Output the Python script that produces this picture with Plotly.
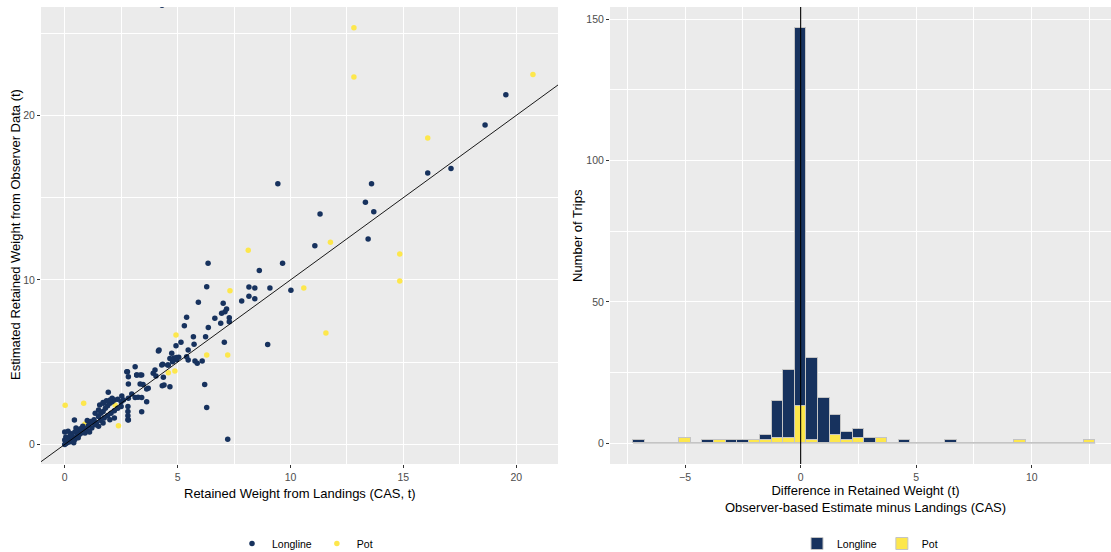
import plotly.graph_objects as go

# ---------------- data ----------------
# Scatter: Longline trips (landings CAS, observer estimate)
longline_x = [4.31, 19.54, 18.62, 17.11, 16.08, 13.59, 9.44, 13.32, 13.69, 11.31,
              13.44, 11.08, 6.35, 9.65, 8.62, 10.02, 9.09, 8.42, 8.16, 6.29,
              8.16, 8.42, 7.84, 5.92, 7.02, 7.17, 7.10, 6.95, 5.40, 6.65,
              7.29, 7.29, 6.91, 5.30, 6.36, 6.24, 5.70, 5.15, 5.73, 4.93,
              7.07, 8.99, 4.18, 5.47, 4.74, 4.66, 4.85, 4.95, 5.05, 5.40,
              5.47, 5.77, 5.87, 6.09, 4.78, 4.59, 4.34, 4.00, 3.92, 4.37,
              3.41, 3.34, 4.32, 4.66, 6.20, 6.29, 7.22, 4.15, 4.96, 4.30,
              4.56, 3.12, 2.78, 3.19, 2.82, 2.82, 3.47, 3.70, 1.93, 2.97,
              3.12, 3.25, 3.41, 2.82, 3.63, 2.60, 2.80, 2.80, 2.80, 2.80,
              3.41, 1.50, 1.60, 1.70, 1.80, 1.90, 2.00, 2.10, 2.20, 2.35,
              2.50, 1.75, 1.90, 2.05, 2.20, 2.35, 2.50, 2.00, 2.20, 1.40,
              1.60, 1.55, 1.70, 1.85, 2.10, 1.35, 1.50, 0.43, 1.00, 1.15,
              1.30, 0.80, 0.90, 1.05, 1.20, 1.35, 1.50, 1.70, 0.00, 0.15,
              0.30, 0.45, 0.60, 0.75, 0.10, 0.20, 0.30, 0.35, 0.45, 0.00,
              0.05, 0.00, 0.05, 0.20, 0.55, 0.65, 0.80, 0.90, 1.00, 0.25,
              0.10, 0.40, 0.60, 0.70, 1.10, 1.25, 0.50, 3.19, 3.34, 2.75,
              2.53, 1.71, 2.01, 4.04, 4.40, 3.63, 2.82]
longline_y = [26.70, 21.26, 19.42, 16.78, 16.50, 15.85, 15.85, 14.72, 14.15, 14.00,
              12.49, 12.08, 11.01, 11.01, 10.58, 9.37, 9.51, 9.51, 9.57, 9.59,
              9.00, 8.86, 8.72, 8.64, 8.58, 8.23, 8.07, 7.97, 7.73, 7.67,
              7.70, 7.46, 7.36, 7.22, 7.10, 6.55, 6.55, 6.21, 6.09, 6.00,
              6.21, 6.08, 5.74, 5.74, 5.54, 5.23, 5.25, 5.15, 5.30, 5.33,
              5.13, 5.07, 4.93, 5.07, 5.03, 4.83, 4.87, 4.52, 4.32, 4.08,
              4.22, 3.67, 3.57, 3.51, 3.65, 2.25, 0.31, 5.68, 5.29, 4.83,
              4.83, 4.72, 4.42, 4.22, 4.12, 3.67, 3.65, 3.41, 3.17, 3.06,
              2.85, 2.87, 2.85, 2.80, 2.60, 2.70, 2.30, 2.00, 1.75, 1.50,
              1.99, 1.70, 1.90, 2.00, 2.20, 2.35, 2.50, 2.60, 2.70, 2.75,
              2.60, 1.60, 1.75, 1.90, 2.05, 2.20, 2.30, 1.50, 1.60, 1.30,
              1.45, 2.40, 2.55, 2.65, 2.80, 1.89, 2.10, 1.48, 1.45, 1.40,
              1.50, 1.10, 0.95, 1.15, 1.00, 1.20, 1.10, 1.30, 0.75, 0.80,
              0.65, 0.75, 0.85, 0.70, 0.10, 0.30, 0.20, 0.45, 0.30, 0.27,
              0.45, 0.00, 0.05, 0.15, 0.55, 0.60, 0.85, 0.70, 0.85, 0.55,
              0.35, 0.10, 0.40, 0.95, 0.75, 1.30, 1.00, 4.22, 4.22, 4.42,
              2.94, 2.50, 2.70, 4.16, 3.61, 3.37, 1.48]

# Scatter: Pot trips
pot_x = [12.81, 12.81, 20.74, 16.08, 14.84, 14.84, 11.57, 11.77, 8.13, 10.59,
         7.32, 6.29, 7.22, 4.93, 4.59, 4.88, 0.02, 0.84, 0.90, 2.38, 2.23]
pot_y = [25.33, 22.33, 22.48, 18.63, 11.57, 9.93, 6.77, 12.29, 11.80, 9.51,
         9.34, 5.43, 5.43, 6.65, 4.36, 4.46, 2.38, 2.50, 1.24, 1.14, 2.40]

# Histogram of differences (observer estimate minus landings), 0.5 t bins
bin_centers = [-7.0, -6.5, -6.0, -5.5, -5.0, -4.5, -4.0, -3.5, -3.0, -2.5,
               -2.0, -1.5, -1.0, -0.5, 0.0, 0.5, 1.0, 1.5, 2.0, 2.5,
               3.0, 3.5, 4.0, 4.5, 5.0, 5.5, 6.0, 6.5, 7.0, 7.5,
               8.0, 8.5, 9.0, 9.5, 10.0, 10.5, 11.0, 11.5, 12.0, 12.5]
hist_longline = [1, 0, 0, 0, 0, 0, 1, 0, 1, 1,
                 0, 2, 13, 24, 134, 29, 16, 7, 3, 3,
                 2, 0, 0, 1, 0, 0, 0, 1, 0, 0,
                 0, 0, 0, 0, 0, 0, 0, 0, 0, 0]
hist_pot = [0, 0, 0, 0, 2, 0, 0, 1, 0, 0,
            1, 1, 2, 2, 13, 1, 0, 3, 1, 2,
            0, 2, 0, 0, 0, 0, 0, 0, 0, 0,
            0, 0, 0, 1, 0, 0, 0, 0, 0, 1]
bin_width = 0.5

NAVY = "#17325E"
YELLOW = "#FDE74C"
OUTLINE = "#C4C4C4"
FONT = "Liberation Sans, Arial, sans-serif"

fig = go.Figure()

# ---- left: scatter ----
fig.add_trace(go.Scatter(x=pot_x, y=pot_y, mode="markers", name="Pot",
                         marker=dict(color=YELLOW, size=5.5), legend="legend",
                         legendrank=2, xaxis="x", yaxis="y"))
fig.add_trace(go.Scatter(x=longline_x, y=longline_y, mode="markers", name="Longline",
                         marker=dict(color=NAVY, size=5.5), legend="legend",
                         legendrank=1, xaxis="x", yaxis="y"))
# 1:1 reference line
fig.add_trace(go.Scatter(x=[-5, 40], y=[-5, 40], mode="lines",
                         line=dict(color="black", width=0.9), showlegend=False,
                         hoverinfo="skip", xaxis="x", yaxis="y"))

# ---- right: stacked histogram ----
fig.add_trace(go.Bar(x=bin_centers, y=hist_pot, width=bin_width, name="Pot",
                     marker=dict(color=YELLOW, line=dict(color=OUTLINE, width=1)),
                     legend="legend2", legendrank=2, xaxis="x2", yaxis="y2"))
fig.add_trace(go.Bar(x=bin_centers, y=hist_longline, width=bin_width, name="Longline",
                     marker=dict(color=NAVY, line=dict(color=OUTLINE, width=1)),
                     legend="legend2", legendrank=1, xaxis="x2", yaxis="y2"))
# outline of empty bins along zero
fig.add_trace(go.Scatter(x=[bin_centers[0] - bin_width / 2, bin_centers[-1] + bin_width / 2],
                         y=[0, 0], mode="lines", line=dict(color=OUTLINE, width=1.2),
                         showlegend=False, hoverinfo="skip", xaxis="x2", yaxis="y2"))

W, H = 1111, 552
ybot = (H - 464) / H
ytop = (H - 7) / H

tickfont = dict(family=FONT, size=10.5, color="#4D4D4D")
common = dict(showline=False, zeroline=False, ticks="outside", ticklen=3,
              tickcolor="#333333", tickwidth=1, gridcolor="white", gridwidth=1.1,
              tickfont=tickfont, automargin=False)

title_font = dict(family=FONT, size=13, color="black")
legend_font = dict(family=FONT, size=10.5, color="black")

fig.update_layout(
    width=W, height=H,
    margin=dict(l=0, r=0, t=0, b=0, autoexpand=False),
    paper_bgcolor="white", plot_bgcolor="#EBEBEB",
    barmode="stack", bargap=0,
    font=dict(family=FONT, color="black"),
    xaxis=dict(domain=[41 / W, 558 / W], range=[-1.05, 21.85], dtick=5, tick0=0,
               minor=dict(dtick=2.5, tick0=0, showgrid=True, gridcolor="white", gridwidth=0.55),
               anchor="y", **common),
    yaxis=dict(domain=[ybot, ytop], range=[-1.19, 26.59], dtick=10, tick0=0,
               minor=dict(dtick=5, tick0=0, showgrid=True, gridcolor="white", gridwidth=0.55),
               anchor="x", **common),
    xaxis2=dict(domain=[610 / W, 1.0], range=[-8.25, 13.43], dtick=5, tick0=0,
                minor=dict(dtick=2.5, tick0=0, showgrid=True, gridcolor="white", gridwidth=0.55),
                anchor="y2", **common),
    yaxis2=dict(domain=[ybot, ytop], range=[-7.35, 154.35], dtick=50, tick0=0,
                minor=dict(dtick=25, tick0=0, showgrid=True, gridcolor="white", gridwidth=0.55),
                anchor="x2", **common),
    legend=dict(orientation="h", x=305 / W, xanchor="center", y=(H - 529) / H,
                yanchor="top", font=legend_font,
                bgcolor="rgba(0,0,0,0)", itemwidth=30, traceorder="normal"),
    legend2=dict(orientation="h", x=870 / W, xanchor="center", y=(H - 529) / H,
                 yanchor="top", font=legend_font,
                 bgcolor="rgba(0,0,0,0)", itemwidth=30, traceorder="normal"),
    shapes=[dict(type="line", xref="x2", yref="y2 domain", x0=0, x1=0, y0=0, y1=1,
                 line=dict(color="black", width=1.1))],
    annotations=[
        dict(text="Retained Weight from Landings (CAS, t)", xref="paper", yref="paper",
             x=300 / W, y=(H - 493) / H, xanchor="center", yanchor="middle",
             showarrow=False, font=title_font),
        dict(text="Estimated Retained Weight from Observer Data (t)", xref="paper", yref="paper",
             x=15 / W, y=(H - 235) / H, xanchor="center", yanchor="middle", textangle=-90,
             showarrow=False, font=title_font),
        dict(text="Difference in Retained Weight (t)<br>Observer-based Estimate minus Landings (CAS)",
             xref="paper", yref="paper", x=865 / W, y=(H - 499) / H,
             xanchor="center", yanchor="middle", showarrow=False, font=title_font),
        dict(text="Number of Trips", xref="paper", yref="paper",
             x=577 / W, y=(H - 235) / H, xanchor="center", yanchor="middle", textangle=-90,
             showarrow=False, font=title_font),
    ],
)

fig.write_html("out.html")
